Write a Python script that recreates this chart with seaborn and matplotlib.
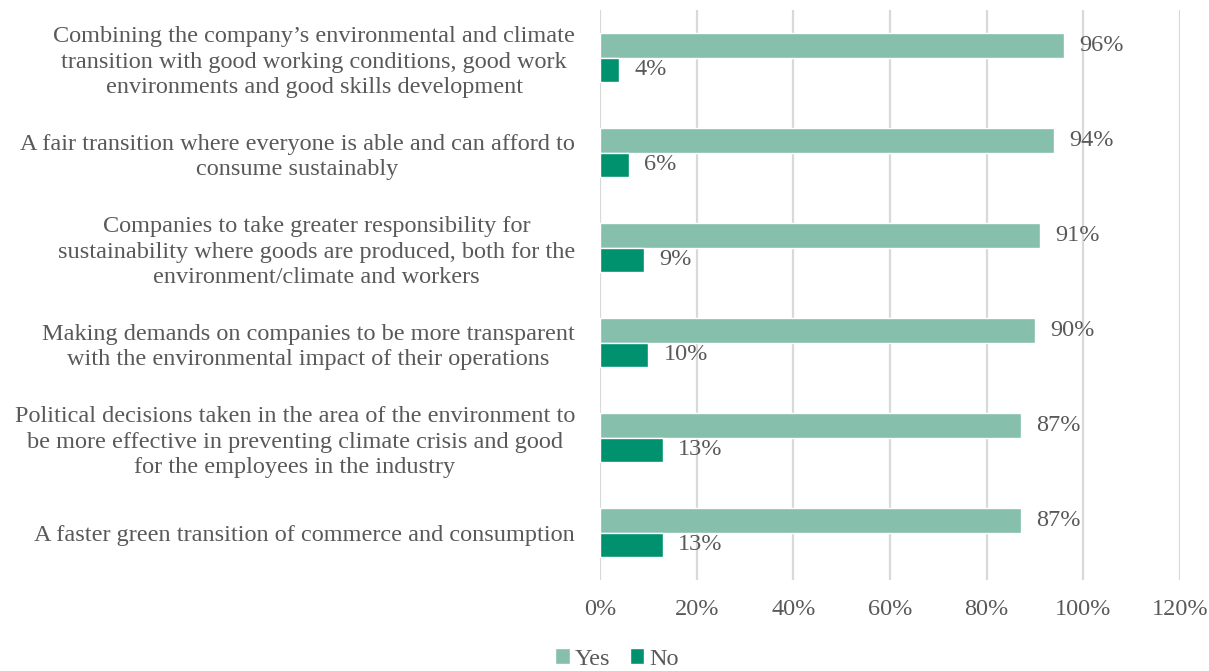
import matplotlib
matplotlib.use("Agg")
import matplotlib.pyplot as plt
import seaborn as sns
import pandas as pd

categories = [
    "Combining the company\u2019s environmental and climate\ntransition with good working conditions, good work\nenvironments and good skills development",
    "A fair transition where everyone is able and can afford to\nconsume sustainably",
    "Companies to take greater responsibility for\nsustainability where goods are produced, both for the\nenvironment/climate and workers",
    "Making demands on companies to be more transparent\nwith the environmental impact of their operations",
    "Political decisions taken in the area of the environment to\nbe more effective in preventing climate crisis and good\nfor the employees in the industry",
    "A faster green transition of commerce and consumption",
]
yes_values = [96, 94, 91, 90, 87, 87]
no_values = [4, 6, 9, 10, 13, 13]
series = ["Yes", "No"]
x_ticks = [0, 20, 40, 60, 80, 100, 120]

df = pd.DataFrame({
    "category": categories * 2,
    "value": yes_values + no_values,
    "answer": ["Yes"] * len(categories) + ["No"] * len(categories),
})

sns.set_theme(style="white")
plt.rcParams["font.family"] = ["Liberation Serif", "DejaVu Serif"]
text_color = "#595959"
fs = 17.5

fig = plt.figure(figsize=(12.09, 6.71), dpi=100)
ax = fig.add_axes([600 / 1209, 1 - 580 / 671, 580 / 1209, 570 / 671])

palette = {"Yes": "#86BFAB", "No": "#00916F"}
sns.barplot(data=df, y="category", x="value", hue="answer", hue_order=series,
            order=categories, palette=palette, orient="h", width=0.515,
            gap=0, saturation=1, ax=ax, legend=True)

ax.set_xlim(0, 120)
ax.set_xticks(x_ticks)
ax.set_xticklabels([f"{t}%" for t in x_ticks])
ax.set_xlabel("")
ax.set_ylabel("")
for s in ax.spines.values():
    s.set_visible(False)
ax.grid(axis="x", color="#D9D9D9", linewidth=1.6)
ax.grid(axis="y", visible=False)
ax.set_axisbelow(True)
ax.tick_params(axis="both", length=0, labelsize=fs, colors=text_color)
ax.tick_params(axis="x", pad=14)
ax.tick_params(axis="y", pad=18)
for lab in ax.get_yticklabels():
    lab.set_multialignment("center")
    lab.set_linespacing(1.28)

for container in ax.containers:
    ax.bar_label(container, labels=[f"{v:.0f}%" for v in container.datavalues],
                 padding=11, fontsize=fs, color=text_color)

handles, labels = ax.get_legend_handles_labels()
ax.get_legend().remove()
fig.legend(handles, labels, loc="center", bbox_to_anchor=(617 / 1209, 1 - 659 / 671),
           ncol=2, frameon=False, fontsize=fs, labelcolor=text_color,
           handlelength=0.6, handleheight=0.6, handletextpad=0.2, columnspacing=0.8)

fig.savefig("out.png", dpi=100)
